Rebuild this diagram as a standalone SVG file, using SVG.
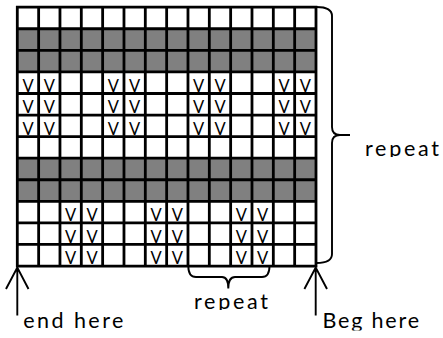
<svg xmlns="http://www.w3.org/2000/svg" width="443" height="338" viewBox="0 0 443 338">
<style>
.bg{fill:#ffffff}
.gray{fill:#808080}
.grid{stroke:#000;stroke-width:2.8;fill:none;stroke-linecap:square}
.v{font-family:Lato,"Liberation Sans",sans-serif;font-size:16.5px;fill:#000;text-anchor:middle}
.lbl{font-family:Lato,"Liberation Sans",sans-serif;font-size:21.5px;fill:#000}
.con{stroke:#000;stroke-width:1.9;fill:none;stroke-linejoin:miter}
</style>
<defs>
<clipPath id="cR"><rect x="350" y="130" width="93" height="27"/></clipPath>
<clipPath id="cB"><rect x="180" y="290" width="100" height="20"/></clipPath>
<clipPath id="cL"><rect x="0" y="305" width="443" height="25.5"/></clipPath>
</defs>
<rect class="bg" x="0" y="0" width="443" height="338"/>
<g id="chart">
<rect class="gray" x="17.3" y="28.77" width="298.7" height="43.14"/>
<rect class="gray" x="17.3" y="158.19" width="298.7" height="43.14"/>
<path class="grid" d="M17.3,7.2V266.04M38.64,7.2V266.04M59.97,7.2V266.04M81.31,7.2V266.04M102.64,7.2V266.04M123.98,7.2V266.04M145.31,7.2V266.04M166.65,7.2V266.04M187.98,7.2V266.04M209.32,7.2V266.04M230.65,7.2V266.04M251.99,7.2V266.04M273.32,7.2V266.04M294.66,7.2V266.04M316,7.2V266.04M17.3,7.2H316M17.3,28.77H316M17.3,50.34H316M17.3,71.91H316M17.3,93.48H316M17.3,115.05H316M17.3,136.62H316M17.3,158.19H316M17.3,179.76H316M17.3,201.33H316M17.3,222.9H316M17.3,244.47H316M17.3,266.04H316"/>
</g>
<g id="marks">
<text class="v" x="27.97" y="91.78">V</text><text class="v" x="49.3" y="91.78">V</text><text class="v" x="113.31" y="91.78">V</text><text class="v" x="134.64" y="91.78">V</text><text class="v" x="198.65" y="91.78">V</text><text class="v" x="219.98" y="91.78">V</text><text class="v" x="283.99" y="91.78">V</text><text class="v" x="305.33" y="91.78">V</text>
<text class="v" x="27.97" y="113.35">V</text><text class="v" x="49.3" y="113.35">V</text><text class="v" x="113.31" y="113.35">V</text><text class="v" x="134.64" y="113.35">V</text><text class="v" x="198.65" y="113.35">V</text><text class="v" x="219.98" y="113.35">V</text><text class="v" x="283.99" y="113.35">V</text><text class="v" x="305.33" y="113.35">V</text>
<text class="v" x="27.97" y="134.92">V</text><text class="v" x="49.3" y="134.92">V</text><text class="v" x="113.31" y="134.92">V</text><text class="v" x="134.64" y="134.92">V</text><text class="v" x="198.65" y="134.92">V</text><text class="v" x="219.98" y="134.92">V</text><text class="v" x="283.99" y="134.92">V</text><text class="v" x="305.33" y="134.92">V</text>
<text class="v" x="70.64" y="221.2">V</text><text class="v" x="91.97" y="221.2">V</text><text class="v" x="155.98" y="221.2">V</text><text class="v" x="177.31" y="221.2">V</text><text class="v" x="241.32" y="221.2">V</text><text class="v" x="262.65" y="221.2">V</text>
<text class="v" x="70.64" y="242.77">V</text><text class="v" x="91.97" y="242.77">V</text><text class="v" x="155.98" y="242.77">V</text><text class="v" x="177.31" y="242.77">V</text><text class="v" x="241.32" y="242.77">V</text><text class="v" x="262.65" y="242.77">V</text>
<text class="v" x="70.64" y="264.34">V</text><text class="v" x="91.97" y="264.34">V</text><text class="v" x="155.98" y="264.34">V</text><text class="v" x="177.31" y="264.34">V</text><text class="v" x="241.32" y="264.34">V</text><text class="v" x="262.65" y="264.34">V</text>
</g>
<g id="connectors">
<path class="con" d="M316.5,7 Q332,7 332,16 L332,127 Q332,135 340,135 L350,135 M340,135 Q332,135 332,143 L332,254 Q332,263 316.5,263"/>
<path class="con" d="M188.3,266 Q188.3,277 196,277 L222,277 Q228.3,277 228.3,288.5 Q228.3,277 235,277 L262,277 Q269.5,277 269.5,266"/>
<path class="con" d="M17.3,267.5V315.5M6,289L17.3,267.5L28.5,289"/>
<path class="con" d="M315.7,267.5V315.5M304.4,289L315.7,267.5L327,289"/>
</g>
<g id="labels">
<text class="lbl" x="365" y="155.5" textLength="74" lengthAdjust="spacing" clip-path="url(#cR)">repeat</text>
<text class="lbl" x="194" y="308.5" textLength="74" lengthAdjust="spacing" clip-path="url(#cB)">repeat</text>
<text class="lbl" x="23.3" y="327.5" textLength="100" lengthAdjust="spacing" clip-path="url(#cL)">end here</text>
<text class="lbl" x="322.5" y="328" textLength="96.5" lengthAdjust="spacing" clip-path="url(#cL)">Beg here</text>
</g>
</svg>
